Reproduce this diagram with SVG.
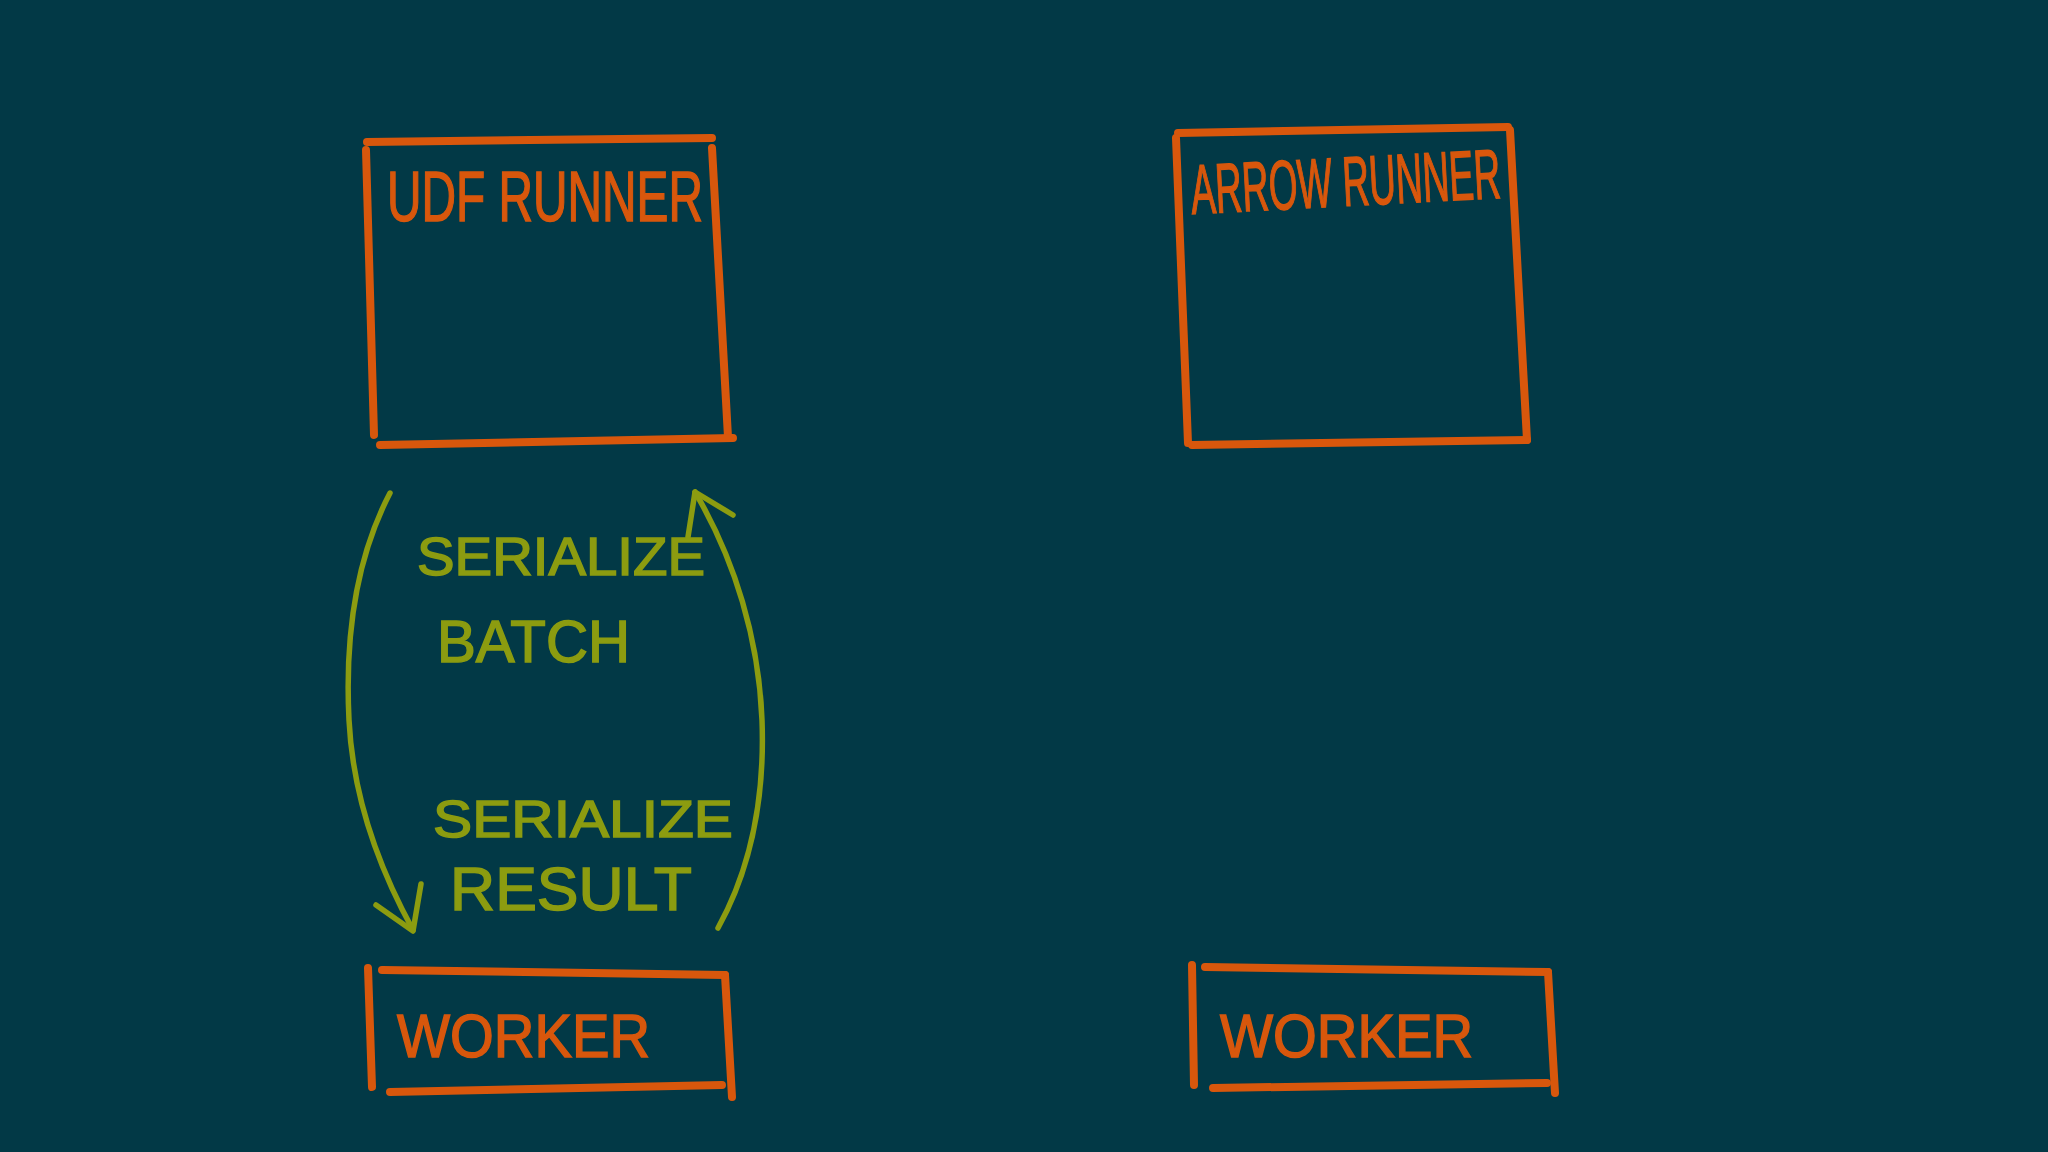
<svg xmlns="http://www.w3.org/2000/svg" width="2048" height="1152" viewBox="0 0 2048 1152">
<defs>
<style>
.box{fill:none;stroke:#d8570c;stroke-width:8;stroke-linecap:round;stroke-linejoin:round}
.olab{fill:#d8570c;stroke:#d8570c;stroke-width:1.5;font-family:"Liberation Sans",Arial,sans-serif}
.glab{fill:#8c9c10;stroke:#8c9c10;stroke-width:1.5;font-family:"Liberation Sans",Arial,sans-serif}
.conn{fill:none;stroke:#8c9c10;stroke-width:5.5;stroke-linecap:round;stroke-linejoin:round}
</style>
</defs>
<rect x="0" y="0" width="2048" height="1152" fill="#023946"/>
<g id="udf-runner">
<path class="box" d="M367 142 L712 138"/>
<path class="box" d="M366 150 L374 435"/>
<path class="box" d="M712 148 L728 437"/>
<path class="box" d="M380 445 L733 438"/>
<text class="olab" x="387" y="221" font-size="70" textLength="316" lengthAdjust="spacingAndGlyphs">UDF RUNNER</text>
</g>
<g id="arrow-runner">
<path class="box" d="M1178 133 L1508 127"/>
<path class="box" d="M1176 138 L1188 443"/>
<path class="box" d="M1510 130 L1527 440"/>
<path class="box" d="M1192 445 L1527 440"/>
<text class="olab" x="1192" y="214" font-size="70" textLength="310" lengthAdjust="spacingAndGlyphs" transform="rotate(-3 1192 214)">ARROW RUNNER</text>
</g>
<g id="worker-left">
<path class="box" d="M368 968 L372 1087"/>
<path class="box" d="M382 970 L725 975"/>
<path class="box" d="M725 975 L732 1097"/>
<path class="box" d="M390 1092 L722 1085"/>
<text class="olab" x="397" y="1057" font-size="62" textLength="253" lengthAdjust="spacingAndGlyphs">WORKER</text>
</g>
<g id="worker-right">
<path class="box" d="M1192 965 L1194 1085"/>
<path class="box" d="M1205 967 L1548 972"/>
<path class="box" d="M1548 972 L1555 1093"/>
<path class="box" d="M1213 1088 L1547 1083"/>
<text class="olab" x="1220" y="1057" font-size="62" textLength="253" lengthAdjust="spacingAndGlyphs">WORKER</text>
</g>
<g id="connectors">
<path class="conn" d="M390 493 C355 560 345 640 349 720 C353 800 380 870 413 930"/>
<path class="conn" d="M376 905 L413 931 L421 884"/>
<path class="conn" d="M718 928 C750 870 765 800 762 720 C759 640 735 560 695 492"/>
<path class="conn" d="M688 537 L695 492 L733 515"/>
</g>
<g id="labels">
<text class="glab" x="417" y="575" font-size="53" textLength="288" lengthAdjust="spacingAndGlyphs">SERIALIZE</text>
<text class="glab" x="437" y="662" font-size="60" textLength="193" lengthAdjust="spacingAndGlyphs">BATCH</text>
<text class="glab" x="433" y="837" font-size="52" textLength="300" lengthAdjust="spacingAndGlyphs">SERIALIZE</text>
<text class="glab" x="450" y="910" font-size="62" textLength="242" lengthAdjust="spacingAndGlyphs">RESULT</text>
</g>
</svg>
